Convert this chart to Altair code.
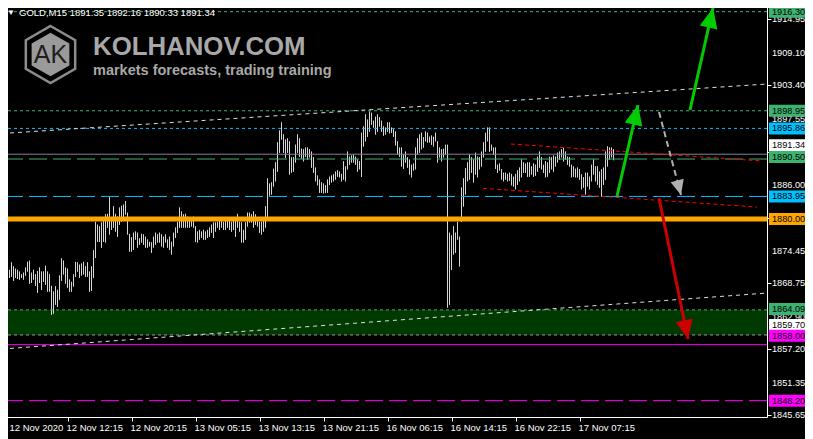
import altair as alt
import pandas as pd

# ---------------- data ----------------
highs = [
    1869.7, 1870.4, 1870.9, 1871.1, 1872.4, 1871.7, 1871.3, 1871.1, 1870.8, 1870.3,
    1870.6, 1871.5, 1872.5, 1872.7, 1870.6, 1871.1, 1870.3, 1870.9, 1871.5, 1870.8,
    1870.8, 1871.8, 1870.8, 1870.3, 1868.3, 1867.3, 1868.2, 1867.6, 1870.1, 1873.1,
    1872.7, 1871.5, 1871.3, 1869.4, 1869.0, 1870.3, 1872.5, 1872.4, 1872.0, 1872.2,
    1872.5, 1871.7, 1872.4, 1870.8, 1871.7, 1874.5, 1879.5, 1879.0, 1878.7, 1879.4,
    1879.7, 1880.8, 1880.9, 1883.8, 1879.9, 1882.2, 1880.9, 1880.4, 1882.0, 1882.3,
    1882.5, 1883.1, 1881.1, 1877.4, 1876.8, 1877.6, 1877.8, 1877.6, 1876.6, 1877.4,
    1877.3, 1876.9, 1876.4, 1876.0, 1875.9, 1876.9,
    1877.6, 1877.3, 1877.6, 1877.3,
    1876.9, 1877.3, 1876.4, 1876.9, 1876.0, 1877.6, 1878.5, 1879.5, 1882.0, 1881.3,
    1880.8, 1880.9, 1880.4, 1880.2, 1879.9, 1880.4, 1878.7, 1877.8, 1878.1, 1877.8,
    1878.1, 1877.8, 1878.1, 1878.5, 1879.0, 1879.4, 1879.4, 1879.5, 1879.9, 1880.2,
    1879.5, 1879.9, 1880.2, 1879.9, 1879.5, 1879.7, 1879.9, 1880.9, 1879.5, 1879.4,
    1878.1, 1879.4, 1881.1, 1881.1, 1880.8, 1881.3, 1880.8, 1880.2, 1879.5, 1879.5,
    1879.9, 1882.2, 1887.1,
    1886.2, 1886.4, 1888.8, 1889.9, 1893.4, 1895.5, 1896.9, 1894.8, 1893.9, 1894.1,
    1893.6, 1890.8, 1890.8, 1893.0, 1894.8, 1894.1, 1892.3, 1892.2, 1892.5, 1892.5, 1892.2,
    1891.8, 1890.8, 1889.0, 1887.6, 1886.9, 1886.4, 1886.2, 1885.9, 1886.9, 1887.4,
    1887.6, 1887.8, 1888.3, 1888.5, 1888.3, 1887.9, 1890.1, 1889.2, 1891.8, 1890.9,
    1891.1, 1891.3, 1890.9, 1890.4, 1890.1, 1895.1, 1896.2, 1898.3, 1897.4, 1898.8,
    1898.6, 1897.2, 1897.9, 1898.3, 1897.8, 1897.2, 1896.2, 1896.0, 1896.9, 1896.9,
    1896.0, 1895.7, 1895.3, 1893.6, 1892.5, 1892.5, 1891.3, 1891.8, 1890.8, 1890.4,
    1889.5, 1889.7, 1892.5, 1894.1, 1894.8, 1895.1, 1894.3, 1895.3, 1895.1, 1894.4,
    1894.6, 1894.4, 1895.1, 1893.6, 1892.5, 1892.2, 1892.3, 1893.0, 1893.0, 1877.6,
    1877.1, 1878.7, 1877.6, 1879.5, 1876.9, 1885.5, 1887.1,
    1888.9, 1889.9, 1891.3, 1890.8, 1890.4, 1891.6, 1890.9, 1890.8, 1891.8, 1893.4,
    1895.1, 1896.0, 1896.0, 1893.0, 1892.5, 1892.5, 1889.5, 1889.7, 1888.7, 1888.1,
    1888.1, 1887.9, 1888.1, 1887.9, 1887.4, 1887.9, 1888.5, 1889.0, 1890.4, 1889.9,
    1889.7, 1889.9, 1889.9, 1889.2, 1889.7, 1889.5, 1890.9, 1891.8, 1890.8, 1889.5,
    1890.1, 1889.9, 1890.9, 1890.8, 1891.1, 1890.9, 1891.6, 1891.8, 1892.2, 1892.5,
    1891.8, 1890.9, 1890.8, 1889.5, 1889.2, 1888.8, 1889.0, 1888.7, 1887.8, 1887.3,
    1888.1, 1888.1, 1887.4, 1889.5, 1890.4, 1889.2, 1889.2, 1888.3, 1888.7, 1889.0,
    1891.8, 1892.7, 1892.5, 1892.5, 1892.2,
]
lows = [
    1868.1, 1868.8, 1869.0, 1869.7, 1869.9, 1869.2, 1869.7, 1869.5, 1869.4, 1869.7,
    1869.4, 1870.1, 1870.8, 1868.7, 1868.8, 1869.4, 1868.3, 1867.1, 1868.8, 1867.6,
    1869.0, 1868.5, 1867.3, 1867.3, 1863.2, 1863.4, 1865.0, 1864.6, 1865.9, 1869.2,
    1870.3, 1868.7, 1868.0, 1867.3, 1867.3, 1868.2, 1869.9, 1870.8, 1869.7, 1870.1,
    1870.3, 1869.9, 1869.9, 1867.3, 1867.4, 1869.7, 1873.2, 1876.0, 1876.0, 1875.0,
    1876.0, 1875.9, 1878.5, 1877.3, 1878.1, 1878.5, 1877.8, 1876.9, 1879.0, 1879.5,
    1880.2, 1880.8, 1877.3, 1874.3, 1874.3, 1874.6, 1876.4, 1875.0, 1875.5, 1875.9,
    1875.5, 1875.0, 1875.0, 1875.2, 1874.1, 1875.0,
    1875.5, 1875.9, 1875.9, 1875.2,
    1875.0, 1875.9, 1875.0, 1874.6, 1873.8, 1875.2, 1876.7, 1877.6, 1878.5, 1878.5,
    1878.5, 1878.5, 1878.5, 1878.5, 1878.7, 1878.5, 1876.0, 1875.9, 1876.4, 1876.7,
    1876.4, 1876.4, 1876.7, 1876.9, 1877.6, 1876.7, 1877.8, 1878.5, 1878.1, 1878.5,
    1878.1, 1878.1, 1878.5, 1878.1, 1877.8, 1878.1, 1876.9, 1878.5, 1877.8, 1875.9,
    1875.9, 1876.4, 1878.7, 1879.4, 1879.4, 1878.5, 1879.0, 1878.7, 1877.6, 1877.3,
    1877.8, 1878.5, 1879.9,
    1884.1, 1884.3, 1885.7, 1886.6, 1888.3, 1891.6, 1893.9, 1891.6, 1890.7, 1891.6,
    1887.8, 1888.1, 1888.3, 1889.9, 1891.6, 1890.9, 1890.6, 1890.1, 1890.9, 1890.4, 1890.8,
    1889.0, 1888.1, 1886.6, 1885.9, 1884.6, 1884.6, 1884.5, 1884.6, 1884.6, 1886.0,
    1886.4, 1886.6, 1886.9, 1887.4, 1887.3, 1886.6, 1886.9, 1886.6, 1888.7, 1889.5,
    1889.9, 1889.9, 1889.5, 1888.3, 1888.7, 1887.4, 1892.7, 1893.6, 1894.4, 1895.3,
    1896.5, 1896.0, 1894.8, 1895.3, 1896.2, 1895.3, 1894.6, 1894.8, 1895.3, 1895.0,
    1895.1, 1894.4, 1892.9, 1891.3, 1890.9, 1889.2, 1888.8, 1889.9, 1889.0, 1887.8,
    1887.3, 1888.5, 1888.7, 1891.3, 1891.6, 1892.2, 1892.5, 1893.6, 1893.4, 1893.4,
    1893.0, 1892.7, 1893.6, 1889.9, 1890.8, 1890.1, 1890.8, 1891.3, 1864.5, 1865.0,
    1871.1, 1873.8, 1874.1, 1876.4, 1871.7, 1879.5, 1882.2,
    1884.3, 1886.6, 1886.9, 1888.1, 1886.4, 1887.8, 1887.3, 1888.7, 1889.2, 1890.8,
    1891.8, 1893.6, 1891.8, 1892.0, 1891.3, 1888.8, 1888.1, 1888.5, 1886.9, 1886.6,
    1886.9, 1886.6, 1886.7, 1885.9, 1885.7, 1885.2, 1886.0, 1886.6, 1887.3, 1888.1,
    1888.1, 1887.4, 1887.4, 1887.8, 1887.4, 1887.6, 1888.3, 1889.0, 1888.7, 1888.1,
    1887.3, 1887.4, 1888.1, 1888.7, 1888.3, 1889.2, 1889.9, 1890.4, 1890.8, 1890.1,
    1890.4, 1889.5, 1889.2, 1887.3, 1887.4, 1887.3, 1887.3, 1886.9, 1885.2, 1885.5,
    1884.3, 1885.7, 1885.2, 1886.6, 1887.8, 1886.6, 1886.0, 1885.5, 1883.9, 1886.0,
    1886.9, 1889.2, 1890.4, 1890.8, 1890.3,
]
bar_index = list(range(len(highs)))

x_tick_values = [0, 32, 64, 96, 128, 160, 192, 224, 256, 288]
x_tick_labels = ["12 Nov 2020", "12 Nov 12:15", "12 Nov 20:15", "13 Nov 05:15",
                 "13 Nov 13:15", "13 Nov 21:15", "16 Nov 06:15", "16 Nov 14:15",
                 "16 Nov 22:15", "17 Nov 07:15"]
y_tick_values = [1914.95, 1909.10, 1903.40, 1897.55, 1891.75, 1886.00, 1880.20,
                 1874.45, 1868.75, 1862.90, 1857.20, 1851.35, 1845.65]

title_text = "GOLD,M15  1891.35 1892.16 1890.33 1891.34"
current_price = 1891.34

# horizontal levels
level_prices = [1916.30, 1898.95, 1895.86, 1890.50, 1883.95, 1880.00, 1864.09,
                1859.70, 1858.00, 1848.20]
zone_top = 1864.09
zone_bottom = 1859.70

# trend lines (bar index, price)
trend_x0 = [-0.75, -0.75, 253.75, 239.75]
trend_y0 = [1894.97, 1857.24, 1893.13, 1885.37]
trend_x1 = [381.75, 381.75, 378.25, 376.75]
trend_y1 = [1903.63, 1867.04, 1890.19, 1882.10]

# arrows (bar index, price)
arrow_x0 = [306.75, 343.25, 327.75, 327.75]
arrow_y0 = [1884.03, 1899.08, 1898.73, 1883.68]
arrow_x1 = [317.25, 354.75, 338.75, 342.25]
arrow_y1 = [1899.96, 1916.94, 1884.20, 1858.99]

# right-hand price labels
label_prices = [1916.30, 1898.95, 1895.86, 1891.34, 1890.50, 1883.95, 1880.00,
                1864.09, 1859.70, 1858.00, 1848.20]

# ---------------- styles ----------------
GREEN = "#3cb371"
BLUE = "#00bfff"
MAGENTA = "#ff00ff"
ORANGE = "#ffa500"
level_styles = [
    dict(color=GREEN, strokeWidth=1, strokeDash=[3, 3]),
    dict(color=GREEN, strokeWidth=1, strokeDash=[3, 3]),
    dict(color=BLUE, strokeWidth=1, strokeDash=[3, 3]),
    dict(color=GREEN, strokeWidth=1, strokeDash=[18, 6]),
    dict(color=BLUE, strokeWidth=1, strokeDash=[18, 6]),
    dict(color=ORANGE, strokeWidth=5),
    dict(color=GREEN, strokeWidth=1, strokeDash=[3, 3]),
    dict(color="#9a9a9a", strokeWidth=1, strokeDash=[3, 3]),
    dict(color=MAGENTA, strokeWidth=1),
    dict(color=MAGENTA, strokeWidth=1, strokeDash=[18, 6]),
]
trend_styles = [
    dict(color="#e0e0e0", strokeWidth=1, strokeDash=[4, 4]),
    dict(color="#e0e0e0", strokeWidth=1, strokeDash=[4, 4]),
    dict(color="#ff0000", strokeWidth=1, strokeDash=[4, 3]),
    dict(color="#ff0000", strokeWidth=1, strokeDash=[4, 3]),
]
arrow_styles = [
    dict(color="#00cc00", width=3, head=1600, angle=13.0),
    dict(color="#00cc00", width=3, head=1600, angle=12.7),
    dict(color="#b0b0b0", width=2, head=900, angle=165.2, dash=[6, 4]),
    dict(color="#cc0000", width=3, head=1444, angle=168.4),
]
label_styles = [
    (GREEN, 0), (GREEN, 0), (BLUE, 0), ("#ffffff", -9), (GREEN, -2), (BLUE, 0),
    (ORANGE, 0), (GREEN, -1), ("#ffffff", -10), (MAGENTA, -9), (MAGENTA, 0),
]

W, H = 765, 417
x_scale = alt.Scale(domain=[-0.75, 381.75], nice=False, zero=False)
y_scale = alt.Scale(domain=[1845.34, 1918.34], nice=False, zero=False)
FONT = "Liberation Sans"
LBL_SIZE = 9.2


def one(**kw):
    return pd.DataFrame({k: [v] for k, v in kw.items()})


def X(f):
    return alt.X(f, type="quantitative", scale=x_scale)


def Y(f):
    return alt.Y(f, type="quantitative", scale=y_scale)


layers = []

# price bars (first layer: carries the axis lines and ticks)
bars_df = pd.DataFrame({"i": bar_index, "high": highs, "low": lows})
layers.append(alt.Chart(bars_df).mark_rule(color="#d6d6d6", strokeWidth=1).encode(
    x=alt.X("i:Q", scale=x_scale, axis=alt.Axis(
        orient="bottom", values=x_tick_values, labels=False, tickSize=4,
        tickColor="#ffffff", domainColor="#ffffff", grid=False, title=None)),
    y=alt.Y("low:Q", scale=y_scale, axis=alt.Axis(
        orient="right", values=y_tick_values, labels=False, tickSize=4,
        tickColor="#ffffff", domainColor="#ffffff", grid=False, title=None)),
    y2="high:Q",
))

# zone rectangle (background)
layers.append(
    alt.Chart(one(top=zone_top, bottom=zone_bottom)).mark_rect(color="#003a00").encode(
        x=alt.value(0), x2=alt.value(W), y=Y("top"), y2="bottom")
)

# x tick labels (first one nudged right so the page margin does not cut it)
xl = pd.DataFrame({"v": x_tick_values, "t": x_tick_labels})
layers.append(
    alt.Chart(xl.iloc[1:]).mark_text(align="left", baseline="top", font=FONT, fontSize=9.5,
                                     color="#ffffff", dx=-1).encode(
        x=X("v"), y=alt.value(H + 6), text="t:N")
)
layers.append(
    alt.Chart(xl.iloc[:1]).mark_text(align="left", baseline="top", font=FONT, fontSize=9.5,
                                     color="#ffffff", dx=6).encode(
        x=X("v"), y=alt.value(H + 6), text="t:N")
)

# y tick labels
layers.append(
    alt.Chart(pd.DataFrame({"v": y_tick_values, "t": [f"{v:.2f}" for v in y_tick_values]}))
    .mark_text(align="left", baseline="middle", font=FONT, fontSize=LBL_SIZE, color="#ffffff")
    .encode(x=alt.value(W + 5), y=Y("v"), text="t:N")
)

# bars again on top of the zone so the spikes show over the green fill
layers.append(
    alt.Chart(bars_df).mark_rule(color="#d6d6d6", strokeWidth=1).encode(
        x=X("i"), y=Y("low"), y2="high")
)

# current price line
layers.append(
    alt.Chart(one(p=current_price)).mark_rule(color="#778899", strokeWidth=1).encode(y=Y("p"))
)

# horizontal levels
for p, st in zip(level_prices, level_styles):
    layers.append(alt.Chart(one(p=p)).mark_rule(**st).encode(y=Y("p")))

# trend lines
for x0, y0, x1, y1, st in zip(trend_x0, trend_y0, trend_x1, trend_y1, trend_styles):
    layers.append(
        alt.Chart(one(x0=x0, y0=y0, x1=x1, y1=y1)).mark_rule(**st).encode(
            x=X("x0"), y=Y("y0"), x2="x1", y2="y1")
    )

# arrows
HEAD = "M0,0L0.45,1L-0.45,1Z"
for x0, y0, x1, y1, st in zip(arrow_x0, arrow_y0, arrow_x1, arrow_y1, arrow_styles):
    d = one(x0=x0, y0=y0, x1=x1, y1=y1)
    kw = dict(color=st["color"], strokeWidth=st["width"])
    if "dash" in st:
        kw["strokeDash"] = st["dash"]
    layers.append(alt.Chart(d).mark_rule(**kw).encode(x=X("x0"), y=Y("y0"), x2="x1", y2="y1"))
    layers.append(
        alt.Chart(d).mark_point(shape=HEAD, filled=True, color=st["color"], opacity=1,
                                size=st["head"], angle=st["angle"], strokeWidth=0).encode(
            x=X("x1"), y=Y("y1"))
    )

# price labels on the right
for p, (bg, shift) in zip(label_prices, label_styles):
    d = one(p=p, t=f"{p:.2f}")
    layers.append(
        alt.Chart(d).mark_rect(color=bg, yOffset=-6 + shift, y2Offset=6 + shift).encode(
            x=alt.value(W + 2), x2=alt.value(W + 43), y=Y("p"), y2="p")
    )
    layers.append(
        alt.Chart(d).mark_text(align="left", baseline="middle", dy=shift, font=FONT,
                               fontSize=LBL_SIZE, color="#000000").encode(
            x=alt.value(W + 5), y=Y("p"), text="t:N")
    )

# logo
HEX = "M0,-1L0.866,-0.5L0.866,0.5L0,1L-0.866,0.5L-0.866,-0.5Z"
logo = one(a=0)
layers.append(alt.Chart(logo).mark_point(shape=HEX, filled=False, color="#8c8c8c",
                                          strokeWidth=2.5, size=3250, opacity=1).encode(
    x=alt.value(48.5), y=alt.value(54.5)))
layers.append(alt.Chart(logo).mark_point(shape=HEX, filled=True, color="#9a9a9a",
                                          size=1900, opacity=1).encode(
    x=alt.value(48.5), y=alt.value(54.5)))
layers.append(alt.Chart(one(t="AK")).mark_text(font=FONT, fontSize=25, color="#1e1e1e",
                                                align="center", baseline="middle").encode(
    x=alt.value(48.5), y=alt.value(55), text="t:N"))
layers.append(alt.Chart(one(t="KOLHANOV.COM")).mark_text(
    font=FONT, fontSize=25.8, fontWeight="bold", color="#a8a8a8",
    align="left", baseline="alphabetic").encode(x=alt.value(91), y=alt.value(55), text="t:N"))
layers.append(alt.Chart(one(t="markets forecasts, trading training")).mark_text(
    font=FONT, fontSize=14.5, fontWeight="bold", color="#a8a8a8",
    align="left", baseline="alphabetic").encode(x=alt.value(91), y=alt.value(75), text="t:N"))

# title
layers.append(alt.Chart(one(t="▼")).mark_text(font=FONT, fontSize=8, color="#ffffff",
                                               align="left", baseline="alphabetic").encode(
    x=alt.value(5), y=alt.value(15), text="t:N"))
layers.append(alt.Chart(one(t=title_text)).mark_text(font=FONT, fontSize=9.5, color="#ffffff",
                                                      align="left", baseline="alphabetic").encode(
    x=alt.value(17), y=alt.value(15.5), text="t:N"))

chart = alt.layer(*layers).properties(
    width=W, height=H,
    padding={"left": -6, "top": -8, "right": 38, "bottom": 22},
    autosize=alt.AutoSizeParams(type="none"),
    background="#000000",
).configure_view(strokeWidth=0)

chart.save("out.html", embed_options={"renderer": "svg", "actions": False})
